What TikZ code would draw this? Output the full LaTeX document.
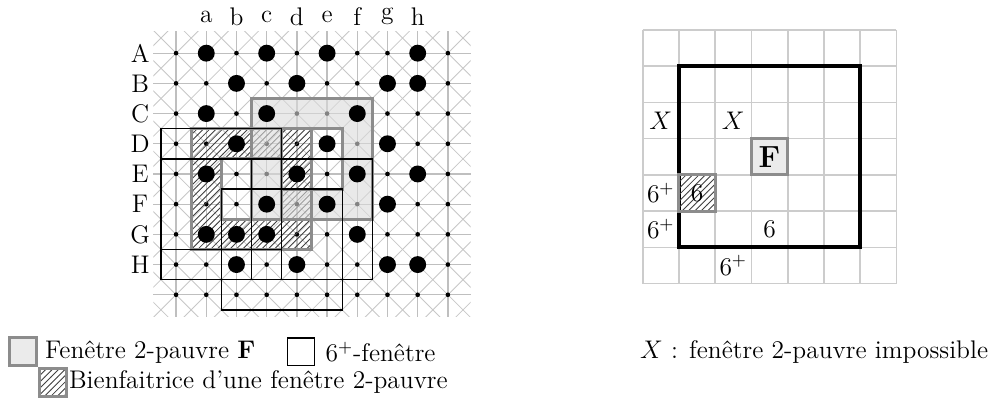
\documentclass[tikz,border=0pt]{standalone}
\usepackage{fontspec}
\usepackage{amsmath}
\usetikzlibrary{patterns, positioning}

\begin{document}
\begin{tikzpicture}[x=0.5cm, y=0.5cm,
    every node/.style={font=\large},
    gridline/.style={black!25, line width=0.6pt},
    diagline/.style={black!22, line width=0.4pt},
    poorfill/.style={fill=black!14, fill opacity=0.6, even odd rule},
    benefill/.style={pattern=north east lines, pattern color=black!75, even odd rule},
    poorline/.style={draw=black!45, line width=1.4pt},
    plusline/.style={draw=black, line width=0.6pt},
    legbox/.style={minimum width=4.4mm, minimum height=4.6mm, inner sep=0pt},
  ]
  \useasboundingbox (0,0) rectangle (32.78,13.54);

  % left: the board
  \begin{scope}[shift={(5.83,11.78)}]
    \begin{scope}
      \clip (-0.75,0.72) rectangle (9.75,-8.72);
      \foreach \k in {-11,...,10} {
        \draw[diagline] (\k,-9) -- ++(11,11);
        \draw[diagline] (\k,1) -- ++(11,-11);
      }
    \end{scope}
    \foreach \i in {0,...,9}
      \draw[gridline] (\i,0.72) -- (\i,-8.72);
    \foreach \r in {0,...,8}
      \draw[gridline] (-0.75,-\r) -- (9.75,-\r);
    \foreach \i in {0,...,9}
      \foreach \r in {0,...,8}
        \fill (\i,-\r) circle[radius=0.077];

    \foreach \c [count=\i] in {a,...,h}
      \node (col\c) at (\i,1.21) {\c};
    \foreach \R [count=\r from 0] in {A,...,H}
      \node (row\R) at (-1.19,-\r) {\R};

    % benefactor and 2-poor window
    \fill[benefill] (0.5,-2.5) rectangle (4.5,-6.5) (1.5,-3.5) rectangle (3.5,-5.5);
    \fill[poorfill] (2.5,-1.5) rectangle (6.5,-5.5) (3.5,-2.5) rectangle (5.5,-4.5);

    \foreach \i/\r in {1/0,3/0,5/0,8/0, 2/1,4/1,7/1,8/1, 1/2,3/2,6/2,
                       2/3,5/3,7/3, 1/4,4/4,6/4,8/4, 3/5,5/5,7/5,
                       1/6,2/6,3/6,6/6, 2/7,4/7,7/7,8/7}
      \fill (\i,-\r) circle[radius=0.28];

    \draw[poorline] (0.5,-2.5) rectangle (4.5,-6.5) (1.5,-3.5) rectangle (3.5,-5.5);
    \draw[poorline] (2.5,-1.5) rectangle (6.5,-5.5) (3.5,-2.5) rectangle (5.5,-4.5);

    % 6+ windows
    \draw[plusline] (-0.5,-2.5) rectangle (3.5,-6.5);
    \draw[plusline] (-0.5,-3.5) rectangle (3.5,-7.5);
    \draw[plusline] (1.5,-4.5) rectangle (5.5,-8.5);
    \draw[plusline] (2.5,-3.5) rectangle (6.5,-7.5);
  \end{scope}

  % right: window positions around F
  \begin{scope}[shift={(21.28,12.55)}, x=0.6cm, y=0.6cm]
    \foreach \t in {0,...,7} {
      \draw[black!20, line width=0.8pt] (\t,0) -- (\t,-7);
      \draw[black!20, line width=0.8pt] (0,-\t) -- (7,-\t);
    }
    \draw[line width=1.9pt] (1,-1) rectangle (6,-6);
    \draw[poorline, fill=black!8] (3,-3) rectangle (4,-4);
    \fill[benefill] (1,-4) rectangle (2,-5);
    \draw[poorline] (1,-4) rectangle (2,-5);

    \node[font=\Large] (winF) at (3.5,-3.5) {\textbf{F}};
    \node (winXa) at (0.5,-2.5) {$X$};
    \node (winXb) at (2.5,-2.5) {$X$};
    \node (winB) at (1.5,-4.5) {6};
    \node (winPa) at (0.5,-4.5) {$6^+$};
    \node (winPb) at (0.5,-5.5) {$6^+$};
    \node (winPc) at (2.5,-6.5) {$6^+$};
    \node (winS) at (3.5,-5.5) {6};
  \end{scope}

  % legend
  \node[legbox, draw=black!45, line width=1.4pt, fill=black!8] (keyF) at (0.76,1.89) {};
  \node[right=0mm of keyF] (txtF) {Fenêtre 2-pauvre \textbf{F}};
  \node[legbox, draw, line width=0.6pt, right=4mm of txtF] (keyP) {};
  \node[right=0.5mm of keyP] (txtP) {$6^+$-fenêtre};
  \node[anchor=west] (txtX) at (20.95,1.89) {$X$ : fenêtre 2-pauvre impossible};
  \node[legbox, draw=black!45, line width=1.4pt, pattern=north east lines,
        pattern color=black!75] (keyB) at (1.75,0.88) {};
  \node[right=-1mm of keyB] (txtB) {Bienfaitrice d'une fenêtre 2-pauvre};
\end{tikzpicture}
\end{document}
